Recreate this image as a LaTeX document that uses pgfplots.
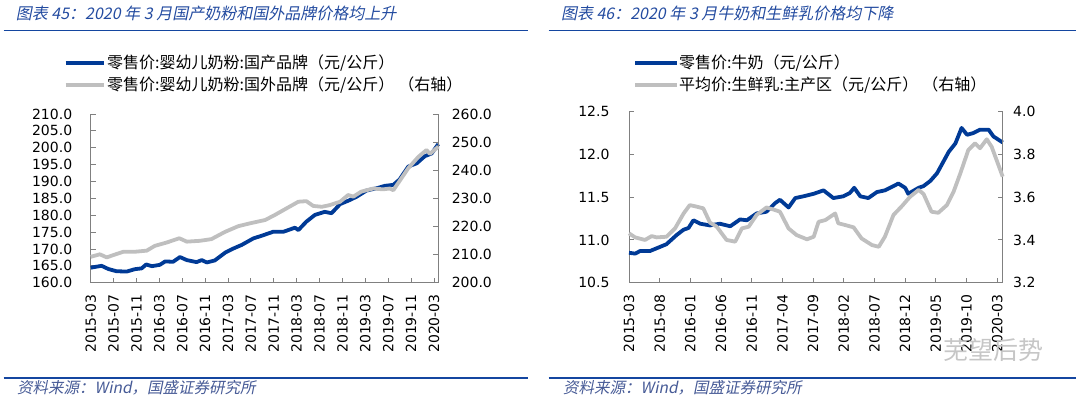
\documentclass[border=0pt]{standalone}
\usepackage{fontspec}
\setmainfont{DejaVu Sans}
\newfontfamily\cjk{Noto Sans CJK SC}
\newfontfamily\cjkit{Noto Sans CJK SC}[FakeSlant=0.2]
\usepackage{pgfplots}
\pgfplotsset{compat=1.18}
\definecolor{serblue}{RGB}{0,58,150}
\definecolor{sergray}{RGB}{191,191,191}
\definecolor{titleblue}{RGB}{35,75,160}
\definecolor{rulecol}{RGB}{20,70,160}
\definecolor{srccol}{RGB}{70,90,150}
\definecolor{axgray}{RGB}{128,128,128}
\pgfplotsset{
  base/.style={
    scale only axis,
    axis line style={axgray, line width=0.9pt},
    tick style={axgray, line width=0.9pt},
    tick align=inside,
    major tick length=5pt,
    ticklabel style={font=\fontsize{14}{14}\selectfont, text=black},
    /pgf/number format/assume math mode=true,
    yticklabel style={/pgf/number format/.cd, fixed, fixed zerofill, precision=1},
    clip=false,
  },
  blue line/.style={serblue, line width=3.8pt, line join=round},
  gray line/.style={sergray, line width=3.8pt, line join=round},
}
\begin{document}
\begin{tikzpicture}[x=1pt,y=1pt]
\path[use as bounding box] (0,0) rectangle (1080,396);

% ---------- titles and rules ----------
\node[anchor=west, inner sep=0pt, text=titleblue, font=\cjkit\fontsize{16}{16}\selectfont] at (15.6,383) {图表 45：2020 年 3 月国产奶粉和国外品牌价格均上升};
\node[anchor=west, inner sep=0pt, text=titleblue, font=\cjkit\fontsize{16}{16}\selectfont] at (560.8,383) {图表 46：2020 年 3 月牛奶和生鲜乳价格均下降};
\draw[rulecol, line width=1.8pt] (3.5,365.5) -- (528,365.5);
\draw[rulecol, line width=1.8pt] (548.6,365.5) -- (1076,365.5);
\draw[rulecol, line width=1.8pt] (3.5,18) -- (528,18);
\draw[rulecol, line width=1.8pt] (548.6,18) -- (1076,18);
\node[anchor=west, inner sep=0pt, text=srccol, font=\cjkit\fontsize{15.5}{15.5}\selectfont] at (17,8) {资料来源：Wind，国盛证券研究所};
\node[anchor=west, inner sep=0pt, text=srccol, font=\cjkit\fontsize{15.5}{15.5}\selectfont] at (563,8) {资料来源：Wind，国盛证券研究所};

% ---------- legends ----------
\draw[serblue, line width=4pt] (65.7,333) -- (103.8,333);
\draw[sergray, line width=4pt] (65.7,311) -- (103.8,311);
\node[anchor=west, inner sep=0pt, font=\cjk\fontsize{16}{16}\selectfont] at (107,333) {零售价:婴幼儿奶粉:国产品牌（元/公斤）};
\node[anchor=west, inner sep=0pt, font=\cjk\fontsize{16}{16}\selectfont] at (107,311) {零售价:婴幼儿奶粉:国外品牌（元/公斤）\hspace{4pt}（右轴）};
\draw[serblue, line width=4pt] (635,333) -- (676.7,333);
\draw[sergray, line width=4pt] (635,311) -- (676.7,311);
\node[anchor=west, inner sep=0pt, font=\cjk\fontsize{16}{16}\selectfont] at (679,333) {零售价:牛奶（元/公斤）};
\node[anchor=west, inner sep=0pt, font=\cjk\fontsize{16}{16}\selectfont] at (679,311) {平均价:生鲜乳:主产区（元/公斤）\hspace{4pt}（右轴）};

% ---------- left panel ----------
\begin{axis}[base, at={(90.7pt,113.3pt)}, anchor=south west, width=347.6pt, height=168.7pt,
  xmin=0, xmax=60.76, ymin=160, ymax=210, ytick={160,165,...,210},
  axis x line*=bottom, axis y line*=left,
  xtick={0,4,...,60},
  xticklabels={2015-03,2015-07,2015-11,2016-03,2016-07,2016-11,2017-03,2017-07,2017-11,2018-03,2018-07,2018-11,2019-03,2019-07,2019-11,2020-03},
  xticklabel style={rotate=90, anchor=east, font=\fontsize{14}{14}\selectfont},
  xticklabel shift=8pt, yticklabel shift=15pt]
\addplot[blue line] coordinates {
(0,164.45)(1.9,165.0)(3.1,164.05)(4.5,163.4)(6.3,163.3)(7.7,164.0)(8.9,164.25)(9.7,165.4)(10.7,164.9)(12.1,165.3)(13.0,166.3)(14.4,166.2)(15.6,167.6)(16.8,166.7)(18.5,166.1)(19.4,166.7)(20.3,166.0)(21.7,166.6)(23.5,168.9)(24.9,170.1)(26.4,171.2)(28.4,173.1)(30.2,174.1)(31.9,175.1)(33.7,175.1)(35.7,176.3)(36.3,175.6)(37.7,178.1)(39.2,180.1)(40.9,181.0)(42.1,180.6)(43.6,183.3)(45.3,184.5)(46.5,185.5)(48.2,187.3)(50.0,188.0)(51.4,188.7)(52.9,189.0)(54.0,190.6)(55.5,194.4)(57.0,195.4)(58.4,197.5)(59.6,198.3)(60.76,201.1)};
\end{axis}
\begin{axis}[base, at={(90.7pt,113.3pt)}, anchor=south west, width=347.6pt, height=168.7pt,
  xmin=0, xmax=60.76, ymin=200, ymax=260, ytick={200,210,...,260},
  axis x line=none, axis y line*=right, yticklabel shift=10pt]
\addplot[gray line] coordinates {
(0,209.2)(1.6,210.1)(2.8,209.0)(4.5,210.2)(5.7,211.0)(7.7,211.0)(9.8,211.4)(11.2,213.1)(13.3,214.3)(15.5,215.8)(16.8,214.6)(19.1,214.9)(21.1,215.5)(23.5,218.1)(25.8,220.1)(27.8,221.1)(30.5,222.3)(32.2,224.1)(34.2,226.4)(36.3,228.8)(37.7,229.0)(38.9,227.3)(40.4,227.0)(41.8,227.6)(43.6,228.8)(45.0,231.2)(45.9,230.6)(47.3,232.4)(49.4,233.5)(51.1,233.2)(52.3,233.5)(52.9,232.9)(54.0,236.2)(55.5,240.7)(57.3,244.8)(58.7,247.2)(59.3,245.8)(60.76,248.4)};
\end{axis}

% ---------- right panel ----------
\begin{axis}[base, at={(629pt,113.3pt)}, anchor=south west, width=373.7pt, height=171pt,
  xmin=0, xmax=60.9, ymin=10.5, ymax=12.5, ytick={10.5,11,...,12.5},
  axis x line*=bottom, axis y line*=left,
  xtick={0,5,...,60},
  xticklabels={2015-03,2015-08,2016-01,2016-06,2016-11,2017-04,2017-09,2018-02,2018-07,2018-12,2019-05,2019-10,2020-03},
  xticklabel style={rotate=90, anchor=east, font=\fontsize{14}{14}\selectfont},
  xticklabel shift=8pt, yticklabel shift=16pt]
\addplot[blue line] coordinates {
(0,10.85)(1,10.84)(1.8,10.87)(3.4,10.87)(5.1,10.92)(6.1,10.95)(7.8,11.06)(8.9,11.12)(9.7,11.14)(10.5,11.23)(11.6,11.19)(13.2,11.17)(14.8,11.19)(16.5,11.16)(18.1,11.24)(19.2,11.23)(20.8,11.31)(22.4,11.33)(23.8,11.43)(24.6,11.47)(26,11.38)(27.1,11.49)(28.4,11.51)(30.1,11.54)(31.7,11.58)(33.3,11.49)(34.9,11.51)(36,11.55)(36.7,11.61)(37.7,11.51)(39,11.49)(40.4,11.56)(41.7,11.58)(43.1,11.63)(43.9,11.66)(45,11.61)(45.5,11.54)(47.2,11.61)(48,11.63)(49.1,11.69)(50.2,11.78)(52.1,12.03)(53.2,12.13)(54.2,12.31)(55.1,12.23)(56.1,12.25)(57.2,12.29)(58.6,12.29)(59.4,12.21)(60.9,12.14)};
\end{axis}
\begin{axis}[base, at={(629pt,113.3pt)}, anchor=south west, width=373.7pt, height=171pt,
  xmin=0, xmax=60.9, ymin=3.2, ymax=4.0, ytick={3.2,3.4,...,4.01},
  axis x line=none, axis y line*=right, yticklabel shift=7pt]
\addplot[gray line] coordinates {
(0,3.431)(1,3.412)(2.6,3.400)(3.7,3.418)(4.5,3.412)(6.1,3.415)(7.5,3.454)(8.9,3.524)(9.9,3.563)(11,3.556)(12.1,3.548)(13.2,3.481)(14.3,3.462)(15.9,3.400)(17.3,3.392)(18.4,3.454)(19.5,3.462)(20.8,3.517)(22.4,3.552)(23.8,3.540)(24.6,3.532)(26,3.454)(27.3,3.423)(29,3.403)(30.1,3.415)(30.9,3.485)(32,3.493)(33.6,3.524)(34.1,3.478)(35.2,3.470)(36.6,3.459)(37.9,3.407)(39.6,3.376)(40.7,3.368)(41.7,3.415)(43.1,3.517)(44.5,3.559)(45.8,3.602)(47.2,3.634)(48,3.615)(49.3,3.532)(50.4,3.527)(51.8,3.563)(52.9,3.626)(54,3.712)(55.3,3.821)(56.4,3.852)(57.2,3.829)(58.3,3.871)(59.1,3.836)(59.9,3.774)(60.9,3.696)};
\end{axis}

% watermark
\node[text=gray!45, font=\cjk\fontsize{25}{25}\selectfont, inner sep=0pt] at (993,46) {芜望后势};
\end{tikzpicture}
\end{document}
